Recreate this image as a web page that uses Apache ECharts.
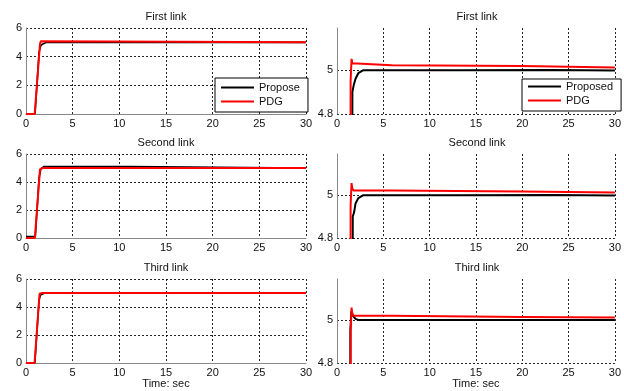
<!DOCTYPE html>
<html>
<head>
<meta charset="utf-8">
<script src="https://cdn.jsdelivr.net/npm/echarts@6/dist/echarts.min.js"></script>
<style>
html,body{margin:0;padding:0;background:#fff;}
#c{width:624px;height:391px;}
</style>
</head>
<body>
<div id="c"></div>
<script>
// ---- Data ----
const titles = ['First link', 'Second link', 'Third link'];
const xTicks = [0, 5, 10, 15, 20, 25, 30];
const leftYTicks = [0, 2, 4, 6];
const rightYTicks = [4.8, 5];

// Left column (full response)
const L1_prop_t = [0, 0.97, 1.4, 1.55, 1.7, 1.9, 2.2, 30];
const L1_prop_y = [0, 0, 4.3, 4.7, 4.85, 4.95, 5.0, 5.0];
const L1_pdg_t  = [0, 0.93, 1.5, 1.6, 1.8, 30];
const L1_pdg_y  = [0, 0, 4.9, 5.08, 5.0, 5.0];

const L2_prop_t = [0, 1.0, 1.4, 1.6, 1.9, 11.1, 11.15, 30];
const L2_prop_y = [0.1, 0.1, 4.3, 4.95, 5.1, 5.1, 5.0, 5.0];
const L2_pdg_t  = [0, 0.95, 1.5, 1.6, 1.8, 30];
const L2_pdg_y  = [0, 0, 4.9, 5.03, 5.0, 5.0];

const L3_prop_t = [0, 0.95, 1.4, 1.55, 1.7, 2.0, 30];
const L3_prop_y = [0, 0, 4.5, 4.85, 4.97, 5.0, 5.0];
const L3_pdg_t  = [0, 0.92, 1.45, 1.6, 1.75, 30];
const L3_pdg_y  = [0, 0, 4.95, 5.08, 5.0, 5.0];

// Right column (zoom around 5)
const R1_prop_t = [0, 1.63, 1.66, 1.8, 2.0, 2.3, 2.8, 13.5, 13.55, 23.2, 23.25, 30];
const R1_prop_y = [0, 0, 4.9, 4.93, 4.96, 4.985, 4.998, 4.998, 5.0, 5.0, 4.997, 4.997];
const R1_pdg_t  = [0, 1.45, 1.47, 1.57, 1.65, 1.8, 5.9, 6.0, 20, 20.05, 30];
const R1_pdg_y  = [0, 0, 4.95, 5.05, 5.03, 5.021, 5.021, 5.018, 5.018, 5.011, 5.011];

const R2_prop_t = [0, 1.67, 1.7, 1.85, 2.0, 2.3, 2.8, 13.5, 13.55, 23.2, 23.25, 30];
const R2_prop_y = [0, 0, 4.9, 4.92, 4.96, 4.985, 4.998, 4.998, 5.0, 5.0, 4.997, 4.997];
const R2_pdg_t  = [0, 1.45, 1.47, 1.57, 1.65, 1.8, 5.9, 6.0, 20, 20.05, 30];
const R2_pdg_y  = [0, 0, 4.95, 5.055, 5.03, 5.02, 5.02, 5.016, 5.016, 5.011, 5.011];

const R3_prop_t = [0, 1.42, 1.44, 1.55, 1.7, 2.0, 2.3, 30];
const R3_prop_y = [0, 0, 4.95, 5.04, 5.02, 5.005, 5.0, 5.0];
const R3_pdg_t  = [0, 1.46, 1.48, 1.57, 1.65, 1.8, 5.9, 6.0, 20, 20.05, 30];
const R3_pdg_y  = [0, 0, 4.95, 5.057, 5.03, 5.019, 5.019, 5.014, 5.014, 5.011, 5.011];

const legendLeft = ['Propose', 'PDG'];
const legendRight = ['Proposed', 'PDG'];

// ---- Build chart ----
function pairs(t, y) { return t.map((v, i) => [v, y[i]]); }

const FONT = '"Liberation Sans", Arial, sans-serif';
const rowTops = [28, 154, 279];
const rowH = [86, 84, 84];
const leftX = 26, leftW = 280, rightX = 337, rightW = 280;

const grids = [], xAxes = [], yAxes = [], series = [], titleArr = [];
const dotted = { color: '#000', type: [2, 2], width: 1, opacity: 0.85 };
const labelStyle = { fontFamily: FONT, fontSize: 11, color: '#111' };

const leftData = [
  [L1_prop_t, L1_prop_y, L1_pdg_t, L1_pdg_y],
  [L2_prop_t, L2_prop_y, L2_pdg_t, L2_pdg_y],
  [L3_prop_t, L3_prop_y, L3_pdg_t, L3_pdg_y]
];
const rightData = [
  [R1_prop_t, R1_prop_y, R1_pdg_t, R1_pdg_y],
  [R2_prop_t, R2_prop_y, R2_pdg_t, R2_pdg_y],
  [R3_prop_t, R3_prop_y, R3_pdg_t, R3_pdg_y]
];

for (let r = 0; r < 3; r++) {
  // left grid
  const gi = grids.length;
  grids.push({ left: leftX, top: rowTops[r], width: leftW, height: rowH[r], containLabel: false });
  xAxes.push({
    gridIndex: gi, type: 'value', min: xTicks[0], max: xTicks[xTicks.length - 1],
    interval: xTicks[1] - xTicks[0],
    axisLine: { show: true, lineStyle: { color: '#888', width: 1 } },
    axisTick: { show: false },
    axisLabel: Object.assign({ margin: 4 }, labelStyle),
    splitLine: { show: true, lineStyle: dotted },
    name: r === 2 ? 'Time: sec' : '', nameLocation: 'middle', nameGap: 15,
    nameTextStyle: { fontFamily: FONT, fontSize: 11, color: '#111' }
  });
  yAxes.push({
    gridIndex: gi, type: 'value', min: leftYTicks[0], max: leftYTicks[leftYTicks.length - 1],
    interval: leftYTicks[1] - leftYTicks[0],
    axisLine: { show: true, lineStyle: { color: '#888', width: 1 } },
    axisTick: { show: false },
    axisLabel: Object.assign({ margin: 4 }, labelStyle),
    splitLine: { show: true, lineStyle: dotted }
  });
  const ld = leftData[r];
  series.push({ type: 'line', name: legendLeft[0], xAxisIndex: gi, yAxisIndex: gi, symbol: 'none',
    data: pairs(ld[0], ld[1]), lineStyle: { color: '#000', width: 1.6 }, itemStyle: { color: '#000' }, z: 2 });
  series.push({ type: 'line', name: legendLeft[1], xAxisIndex: gi, yAxisIndex: gi, symbol: 'none',
    data: pairs(ld[2], ld[3]), lineStyle: { color: '#f00', width: 2 }, itemStyle: { color: '#f00' }, z: 3 });
  titleArr.push({ text: titles[r], left: leftX + leftW / 2, textAlign: 'center', top: rowTops[r] - 17, padding: 0,
    textStyle: { fontFamily: FONT, fontSize: 11, fontWeight: 'normal', color: '#111' } });

  // right grid
  const gj = grids.length;
  grids.push({ left: rightX, top: rowTops[r], width: rightW, height: rowH[r], containLabel: false });
  xAxes.push({
    gridIndex: gj, type: 'value', min: xTicks[0], max: xTicks[xTicks.length - 1],
    interval: xTicks[1] - xTicks[0],
    axisLine: { show: false },
    axisTick: { show: false },
    axisLabel: Object.assign({ margin: 4 }, labelStyle),
    splitLine: { show: true, showMinLine: false, lineStyle: dotted },
    name: r === 2 ? 'Time: sec' : '', nameLocation: 'middle', nameGap: 15,
    nameTextStyle: { fontFamily: FONT, fontSize: 11, color: '#111' }
  });
  yAxes.push({
    gridIndex: gj, type: 'value', min: rightYTicks[0], max: 5.19,
    interval: 0.2,
    axisLine: { show: true, lineStyle: { color: '#888', width: 1 } },
    axisTick: { show: false },
    axisLabel: Object.assign({ margin: 4, formatter: function (v) {
      for (const t of rightYTicks) { if (Math.abs(v - t) < 1e-6) return String(t); }
      return '';
    } }, labelStyle),
    splitLine: { show: true, showMaxLine: false, lineStyle: dotted }
  });
  const rd = rightData[r];
  series.push({ type: 'line', name: legendRight[0], xAxisIndex: gj, yAxisIndex: gj, symbol: 'none',
    data: pairs(rd[0], rd[1]), lineStyle: { color: '#000', width: 2 }, itemStyle: { color: '#000' }, z: 2 });
  series.push({ type: 'line', name: legendRight[1], xAxisIndex: gj, yAxisIndex: gj, symbol: 'none',
    data: pairs(rd[2], rd[3]), lineStyle: { color: '#f00', width: 2 }, itemStyle: { color: '#f00' }, z: 3 });
  titleArr.push({ text: titles[r], left: rightX + rightW / 2, textAlign: 'center', top: rowTops[r] - 17, padding: 0,
    textStyle: { fontFamily: FONT, fontSize: 11, fontWeight: 'normal', color: '#111' } });
}

const legendCommon = {
  orient: 'vertical', icon: 'rect', itemWidth: 33, itemHeight: 2, itemGap: 3,
  backgroundColor: '#fff', borderColor: '#000', borderWidth: 1,
  selectedMode: false,
  textStyle: { fontFamily: FONT, fontSize: 11, color: '#111' }
};

const chart = echarts.init(document.getElementById('c'), null, { renderer: 'canvas' });
chart.setOption({
  animation: false,
  backgroundColor: '#fff',
  title: titleArr,
  grid: grids,
  xAxis: xAxes,
  yAxis: yAxes,
  legend: [
    Object.assign({}, legendCommon, { left: 215, top: 78, data: legendLeft, padding: [4, 8, 5, 6] }),
    Object.assign({}, legendCommon, { left: 522, top: 79, data: legendRight, padding: [2, 8, 5, 6] })
  ],
  series: series
});
</script>
</body>
</html>
